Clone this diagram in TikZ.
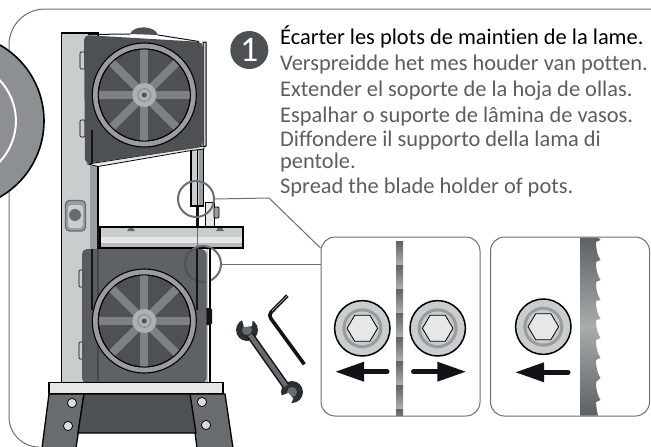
\documentclass[tikz,border=0pt]{standalone}
\usepackage{fontspec}
\setmainfont[Ligatures=NoCommon]{Carlito}
\definecolor{boxdark}{HTML}{4D5154}
\definecolor{legdark}{HTML}{686C6E}
\definecolor{steel}{HTML}{C9CDCE}
\definecolor{pale}{HTML}{E6E8E8}
\definecolor{rim}{HTML}{9A9D9F}
\definecolor{spoke}{HTML}{7D8184}
\definecolor{disc}{HTML}{8D9092}
\definecolor{edge}{HTML}{6B6E70}
\definecolor{textgray}{HTML}{5A5E60}
\definecolor{inkblack}{HTML}{111318}
\tikzset{
  panel/.style={draw=edge,line width=1,rounded corners=14,fill=white,minimum width=159,minimum height=179,outer sep=0,inner sep=0},
  lens/.style={circle,draw=edge,line width=2,minimum size=36,outer sep=0,inner sep=0},
  leader/.style={draw=edge,line width=1},
  notice/.style={anchor=base west,inner sep=0,font=\fontsize{22.4}{22.4}\selectfont,text=textgray}
}
\begin{document}
\begin{tikzpicture}[x=1pt,y=-1pt]
  \useasboundingbox (0,0) rectangle (651,447);
  % frame and cut-off disc
  \draw[edge,line width=1] (651,9) -- (45,9) arc[start angle=-90,end angle=-180,radius=36] -- (9,417) arc[start angle=180,end angle=90,radius=30];
  \draw[fill=disc,line width=1.6] (-43.6,121) circle (87.6);
  \draw[white,line width=2] (-43.6,121) circle (59.5);
  % column and post
  \draw[fill=steel,line width=1.3] (61.5,33) rectangle (98,383);
  \fill[rim] (90,160) rectangle (97.3,250);
  \draw[fill=steel,line width=1.1] (191,147) rectangle (203,206);
  \fill[rim] (199,147) rectangle (202.5,205);
  \draw[line width=.6] (197,147) -- (197,206);
  \draw[fill=steel,line width=1] (203,42) -- (206,42) -- (206,146) -- (203,147) -- cycle;
  \draw[fill=pale,line width=.8] (88,164) -- (204,146) -- (204,149) -- (191,150.5) -- (98,166.5) -- cycle;
  % top of the upper housing
  \fill[boxdark] (130,34) .. controls (133,25) and (155,25) .. (158,35) -- cycle;
  % hinges
  \foreach \hy/\hx in {52/80,120/80,270/79,342/79}{
    \draw[fill=steel,line width=.7,rounded corners=1] (\hx,\hy) rectangle (\hx+5,\hy+17);
  }
  % switch
  \draw[fill=rim,draw=legdark,line width=1.2,rounded corners=4] (65.5,200.5) rectangle (85.5,231);
  \fill[steel,rounded corners=3] (68,205) rectangle (83,228);
  \fill[legdark] (75,215) circle (6);
  % guide and blade
  \fill[inkblack] (195.8,206) rectangle (199.2,228);
  \draw[fill=pale,line width=1] (205,227) -- (205,202) -- (214,202) -- (214,227);
  \draw[fill=rim,line width=.8,rounded corners=1] (214,207) rectangle (219,218);
  % table
  \fill[inkblack] (97,227) rectangle (100,246);
  \draw[fill=steel,line width=1.2] (100,227) rectangle (243,248);
  \fill[pale] (100.6,237) rectangle (242.4,243);
  \fill[rim!70!white] (100.6,243) rectangle (242.4,247.4);
  \foreach \tx in {127,216}{
    \fill[legdark] (\tx,231) -- (\tx+2,228) -- (\tx+6,228) -- (\tx+8,231) -- cycle;
  }
  \draw[legdark,line width=1] (197,228) -- (197,250);
  % lower lens lies under the housing
  \node[lens] (lensdown) at (203,264) {};
  % lower strip, housings
  \fill[white] (206,249) rectangle (210,383);
  \fill[rim!60!white] (206,249) rectangle (208,383);
  \draw[line width=1.2] (210,248) -- (210,383);
  \fill[inkblack] (206,308) -- (210,308) arc[start angle=-90,end angle=0,radius=2] -- (212,323) arc[start angle=0,end angle=90,radius=2] -- (206,325) -- cycle;
  \fill[boxdark,fill opacity=.9,rounded corners=5] (82,249) rectangle (206.5,383.5);
  \fill[boxdark,rounded corners=5] (84,35) -- (203,42) -- (203,147) -- (85,164) -- cycle;
  \draw[inkblack,line width=1] (88,34.5) -- (130,34) (158,35) -- (199,41.5);
  \draw[inkblack,line width=1.1] (92,130) -- (92,163) (92,249) -- (92,310);
  \draw[inkblack,line width=1.1] (197,249) -- (197,310);
  % wheels
  \foreach \cy in {95,321}{
    \draw[fill=rim,line width=1.1] (144.3,\cy) circle (52);
    \draw[fill=boxdark,line width=1] (144.3,\cy) circle (46);
    \foreach \a in {0,45,...,315}{
      \draw[spoke,line width=8] (144.3,\cy) -- ++(\a:46);
    }
    \draw[line width=.8] (144.3,\cy) circle (46);
    \fill[rim!80!white] (144.3,\cy) circle (12);
    \draw[spoke,line width=.7] (144.3,\cy) circle (6.5);
    \fill[boxdark] (144.3,\cy) circle (2.5);
  }
  % base and legs
  \draw[fill=legdark,line width=1.3] (49,394) -- (84,394) -- (76,448) -- (42,448) -- cycle;
  \draw[fill=legdark,line width=1.3] (190,394) -- (225,394) -- (233,448) -- (197,448) -- cycle;
  \draw[fill=boxdark,line width=1.3] (84,394) -- (190,394) -- (196,433) -- (78,433) -- cycle;
  \draw[fill=pale,line width=1.3] (49,382.5) rectangle (223,393.5);
  \foreach \hx/\hy in {72/403,68/426,202/402,206/425}{
    \draw[fill=steel!70!white,line width=.7] (\hx,\hy) circle (4.6);
  }
  % detail panels
  \node[panel] (panelopen) at (400.5,326.5) {};
  \node[panel] (panelclose) at (570,326.5) {};
  \begin{scope}
    \clip (396,237.5) rectangle (403,415.5);
    \foreach \y in {241,265,...,409}{
      \shade[top color=legdark!90!black,bottom color=rim!80!white] (396,\y) rectangle (403,\y+24);
    }
  \end{scope}
  \shade[top color=legdark!90!black,bottom color=legdark!90!black,middle color=rim!85!white] (580,237.5) -- (598,237.5) -- (600.5,240)
    \foreach \ty in {260,280,300,319,338,358,378,400}{ -- (596,\ty-18) .. controls (596,\ty-9) and (598,\ty-4) .. (600.5,\ty) }
    -- (596,402) .. controls (596.5,408) and (597,412) .. (598,415.5) -- (580,415.5) -- cycle;
  % bolts
  \foreach \bx/\by in {362.3/328.3,437.7/328.3,543.3/326.7}{
    \draw[fill=steel,line width=1.5] (\bx,\by) circle (27.7);
    \fill[rim] (\bx,\by) circle (20);
    \fill[steel] (\bx,\by) circle (16.8);
    \draw[fill=pale,line width=.8] (\bx+15.3,\by) -- (\bx+7.6,\by+13) -- (\bx-7.6,\by+13) -- (\bx-15.3,\by) -- (\bx-7.6,\by-13) -- (\bx+7.6,\by-13) -- cycle;
  }
  % arrows
  \foreach \tip/\base/\tail/\ay in {335.7/364/387/371.7,465.7/437.3/413.5/371.7,515.7/544/568/372.3}{
    \fill[inkblack] (\tip,\ay) -- (\base,\ay-10) -- (\base,\ay+10) -- cycle;
    \draw[inkblack,line width=5,line cap=round] (\base,\ay) -- (\tail,\ay);
  }
  % leaders
  \node[lens] (lensup) at (196,199) {};
  \coordinate (kneeup) at (269,198);
  \coordinate (cornerup) at (320.5,248);
  \coordinate (footdown) at (321,264);
  \draw[leader] (lensup.east) -- (kneeup) -- (cornerup);
  \draw[leader] (lensdown.east) -- (footdown);
  % tools
  \draw[inkblack,line width=3.6,rounded corners=4] (304.3,364.3) -- (268.3,315) -- (287.3,295.7);
  \draw[rim,line width=.8] (287,296) -- (272,311);
  \fill[inkblack!70!legdark] (247,330) circle (11) (292,392) circle (11);
  \draw[inkblack,line width=7.5] (250,335) -- (286,386);
  \draw[legdark,line width=4.5] (250,335) -- (286,386);
  \fill[legdark] (247,330) circle (5) (292,392) circle (5);
  \fill[white] (241,316) -- (253,316) -- (252,326) -- (244,327) -- cycle;
  \fill[white] (275,398) -- (288.3,393) -- (293.3,398.5) -- (288,410) -- cycle;
  % step mark and texts
  \node[circle,fill=boxdark,minimum size=38,inner sep=0,text=white,font=\fontsize{36}{36}\selectfont] (stepmark) at (249.3,50) {1};
  \node[notice,text=black] (fr) at (280,45) {Écarter les plots de maintien de la lame.};
  \node[notice] (nl) at (280,70) {Verspreidde het mes houder van potten.};
  \node[notice] (es) at (280,96) {Extender el soporte de la hoja de ollas.};
  \node[notice] (pt) at (280,122) {Espalhar o suporte de lâmina de vasos.};
  \node[notice] (it) at (280,146) {Diffondere il supporto della lama di};
  \node[notice] (itb) at (280,168) {pentole.};
  \node[notice] (en) at (280,193) {Spread the blade holder of pots.};
\end{tikzpicture}
\end{document}
